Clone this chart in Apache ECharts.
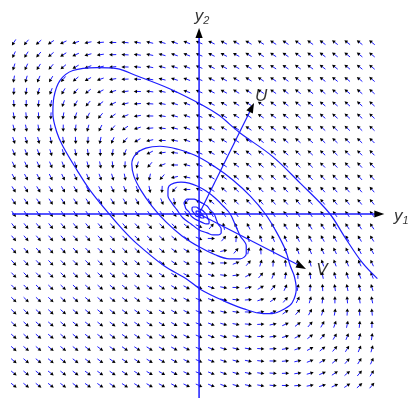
<!DOCTYPE html>
<html><head><meta charset="utf-8">
<script src="https://cdn.jsdelivr.net/npm/echarts@6/dist/echarts.min.js"></script>
<style>html,body{margin:0;padding:0;background:#fff}#c{width:409px;height:399px}</style>
</head><body><div id="c"></div>
<script>
// Direction-field grid (grid units)
const fieldCols = [-15,-14,-13,-12,-11,-10,-9,-8,-7,-6,-5,-4,-3,-2,-1,0,1,2,3,4,5,6,7,8,9,10,11,12,13,14];
const fieldRows = [-14,-13,-12,-11,-10,-9,-8,-7,-6,-5,-4,-3,-2,-1,0,1,2,3,4,5,6,7,8,9,10,11,12,13,14];
// Linear system y' = A y, coefficients estimated from the arrow directions
const matrixRow1 = [-0.59, -0.93];
const matrixRow2 = [0.82, 0.42];
// Axis extents
const xExtent = [-15.15, 15.0];
const yExtent = [-15.02, 15.18];
// Eigen-direction vectors
const vecU = [4.45, 9.06];
const vecV = [8.66, -4.49];
// Trajectory
const trajectory = [
[14.44,-5.28],[13.22,-3.98],[11.84,-1.95],[10.54,0.08],[8.19,2.52],[5.92,4.72],[3.24,6.67],[1.62,8.05],[0.32,8.86],[-2.43,10.24],[-5.11,11.30],[-6.65,11.87],[-8.27,11.95],[-10.22,11.71],[-11.27,10.89],[-11.76,9.51],[-11.84,8.21],[-11.52,6.67],[-11.03,5.53],[-9.89,3.58],[-8.84,1.95],[-7.22,-0.08],[-6.16,-1.30],[-5.11,-2.36],[-2.84,-4.23],[-1.05,-5.28],[0.16,-6.18],[1.95,-7.07],[3.57,-7.72],[5.19,-8.13],[5.92,-8.13],[6.97,-7.72],[7.54,-7.24],[7.87,-6.10],[7.70,-5.04],[7.38,-4.23],[6.99,-2.93],[6.26,-1.46],
[5.37,0],[4.15,1.46],[2.76,2.76],[1.22,3.90],[-0.33,4.80],[-1.71,5.28],[-3.17,5.53],[-4.31,5.37],[-5.12,4.88],[-5.45,4.07],[-5.28,3.09],[-4.72,1.95],[-3.82,0.65],[-2.68,-0.65],[-1.38,-1.79],[0,-2.68],[1.30,-3.33],[2.44,-3.66],[3.33,-3.66],[3.82,-3.25],[3.82,-2.60],[3.33,-1.79],[2.93,-0.89],
[2.52,0],[1.95,0.65],[1.30,1.30],[0.57,1.87],[-0.16,2.28],[-0.81,2.52],[-1.46,2.60],[-2.03,2.52],[-2.44,2.28],[-2.52,1.87],[-2.52,1.46],[-2.20,0.89],[-1.79,0.33],[-1.30,-0.33],[-0.65,-0.81],[0,-1.30],[0.65,-1.54],[1.14,-1.71],[1.54,-1.71],[1.79,-1.54],[1.79,-1.22],[1.54,-0.81],[1.38,-0.41],
[1.22,0],[0.89,0.33],[0.65,0.65],[0.24,0.89],[-0.08,1.06],[-0.41,1.22],[-0.65,1.22],[-0.98,1.22],[-1.14,1.06],[-1.22,0.89],[-1.14,0.65],[-1.06,0.41],[-0.81,0.16],[-0.65,-0.16],[-0.33,-0.41],[0,-0.57],[0.33,-0.73],[0.57,-0.81],[0.73,-0.81],[0.81,-0.73],[0.81,-0.57],[0.73,-0.41],
[0.57,0],[0.41,0.16],[0.24,0.33],[0,0.41],[-0.24,0.57],[-0.49,0.57],[-0.57,0.49],[-0.57,0.33],[-0.41,0.08],[-0.24,-0.16],[0,-0.24],[0.24,-0.33],[0.41,-0.33],[0.33,-0.16],
[0.24,0],[0.08,0.16],[-0.08,0.24],[-0.24,0.24],[-0.24,0.08],[-0.08,-0.08],[0.08,-0.16],[0.16,-0.08],[0.08,0],[0,0]
];
const axisNames = ['y', '1', '2'];
const vectorNames = ['U', 'V'];

const BLUE = '#1c1cff';
const fieldData = [];
fieldRows.forEach(r => fieldCols.forEach(c => fieldData.push([c, r])));

function fieldItem(params, api) {
  const x = api.value(0), y = api.value(1);
  const vx = matrixRow1[0]*x + matrixRow1[1]*y;
  const vy = matrixRow2[0]*x + matrixRow2[1]*y;
  if (vx === 0 && vy === 0) return null;
  const c = api.coord([x, y]);
  const p = api.coord([x + vx*0.01, y + vy*0.01]);
  let dx = p[0]-c[0], dy = p[1]-c[1];
  const L = Math.hypot(dx, dy); if (!L) return null;
  dx /= L; dy /= L;
  const px = -dy, py = dx;
  const tip = [c[0]+3.6*dx, c[1]+3.6*dy];
  const base = [c[0]+0.3*dx, c[1]+0.3*dy];
  return {type:'group', children:[
    {type:'line', shape:{x1:c[0]-3.6*dx, y1:c[1]-3.6*dy, x2:base[0]+0.3*dx, y2:base[1]+0.3*dy}, style:{stroke:BLUE, lineWidth:1}},
    {type:'polygon', shape:{points:[tip,[base[0]+1.8*px, base[1]+1.8*py],[base[0]-1.8*px, base[1]-1.8*py]]}, style:{fill:'#000'}}
  ]};
}

function arrowItem(params, api) {
  const p0 = api.coord([api.value(0), api.value(1)]);
  const p1 = api.coord([api.value(2), api.value(3)]);
  let dx = p1[0]-p0[0], dy = p1[1]-p0[1];
  const L = Math.hypot(dx, dy); dx/=L; dy/=L;
  const px = -dy, py = dx;
  const hl = 10, hw = 3.6;
  const b = [p1[0]-hl*dx, p1[1]-hl*dy];
  return {type:'group', children:[
    {type:'line', shape:{x1:p0[0], y1:p0[1], x2:b[0]+2*dx, y2:b[1]+2*dy}, style:{stroke:BLUE, lineWidth:params.dataIndex<2?1.5:1.2}},
    {type:'polygon', shape:{points:[p1,[b[0]+hw*px,b[1]+hw*py],[b[0]-hw*px,b[1]-hw*py]]}, style:{fill:'#000'}}
  ]};
}

const rich = {
  i:{fontStyle:'italic', fontSize:17, fontFamily:'Liberation Sans', color:'#000', lineHeight:20},
  s:{fontStyle:'italic', fontSize:11, fontFamily:'Liberation Sans', color:'#000', lineHeight:20, padding:[10,0,0,0]}
};

const chart = echarts.init(document.getElementById('c'), null, {renderer:'canvas'});
chart.setOption({
  animation:false,
  backgroundColor:'#fff',
  grid:{left:12, right:24.7, top:28, bottom:1},
  xAxis:{type:'value', min:xExtent[0], max:xExtent[1], show:false},
  yAxis:{type:'value', min:yExtent[0], max:yExtent[1], show:false},
  series:[
    {type:'custom', coordinateSystem:'cartesian2d', renderItem:fieldItem, data:fieldData, silent:true, z:1, clip:false},
    {type:'line', data:trajectory, smooth:0.35, showSymbol:false, symbol:'none', lineStyle:{color:BLUE, width:1.2}, z:2, silent:true},
    {type:'custom', coordinateSystem:'cartesian2d', renderItem:arrowItem, encode:{x:[0,2], y:[1,3]}, clip:false, z:3, silent:true,
     data:[[xExtent[0],0,xExtent[1],0],[0,yExtent[0],0,yExtent[1]],[0,0,vecU[0],vecU[1]],[0,0,vecV[0],vecV[1]]]},
    {type:'scatter', symbolSize:1, itemStyle:{color:'rgba(0,0,0,0)'}, z:4, silent:true,
     label:{show:true, position:'inside', color:'#000', rich:rich},
     data:[
       {value:[xExtent[1],0], label:{formatter:'{i|'+axisNames[0]+'}{s|'+axisNames[1]+'}', offset:[17,2]}},
       {value:[0,yExtent[1]], label:{formatter:'{i|'+axisNames[0]+'}{s|'+axisNames[2]+'}', offset:[3,-12]}},
       {value:vecU, label:{formatter:'{i|'+vectorNames[0]+'}', offset:[7,-7]}},
       {value:vecV, label:{formatter:'{i|'+vectorNames[1]+'}', offset:[16,1]}}
     ]}
  ]
});
</script></body></html>
